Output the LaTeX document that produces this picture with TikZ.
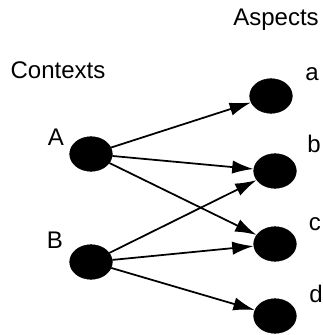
\documentclass[tikz,border=0pt]{standalone}
\usepackage{fontspec}
\setmainfont{Liberation Sans}
\usetikzlibrary{shapes.geometric,arrows.meta}

\begin{document}
\begin{tikzpicture}[x=0.03cm,y=-0.03cm,
    blob/.style={draw, ellipse, fill=black, minimum width=1.28cm, minimum height=1.04cm, inner sep=0pt},
    lbl/.style={anchor=base, inner sep=0pt, font=\fontsize{20.5}{24}\selectfont},
    arr/.style={-{Latex[length=0.64cm,width=0.4cm]}, line width=1.5pt}]
            \useasboundingbox (0,0) rectangle (322,335);

            \node[lbl] (tAsp) at (276,25) {Aspects};
            \node[lbl] (tCtx) at (58,78) {Contexts};

            \node[blob] (A) at (91,154) {};
            \node[blob] (B) at (91,262) {};
            \node[blob] (a) at (271,96) {};
            \node[blob] (b) at (275,171) {};
            \node[blob] (c) at (275,244) {};
            \node[blob] (d) at (275,316) {};

            \node[lbl] (lA) at (56,145) {A};
            \node[lbl] (lB) at (55,248) {B};
            \node[lbl] (la) at (312,80) {a};
            \node[lbl] (lb) at (314,152) {b};
            \node[lbl] (lc) at (315,230) {c};
            \node[lbl] (ld) at (316,302) {d};

            \draw[arr] (A) -- (a);
            \draw[arr] (A) -- (b);
            \draw[arr] (A) -- (c);
            \draw[arr] (B) -- (b);
            \draw[arr] (B) -- (c);
            \draw[arr] (B) -- (d);
        \end{tikzpicture}
\end{document}
